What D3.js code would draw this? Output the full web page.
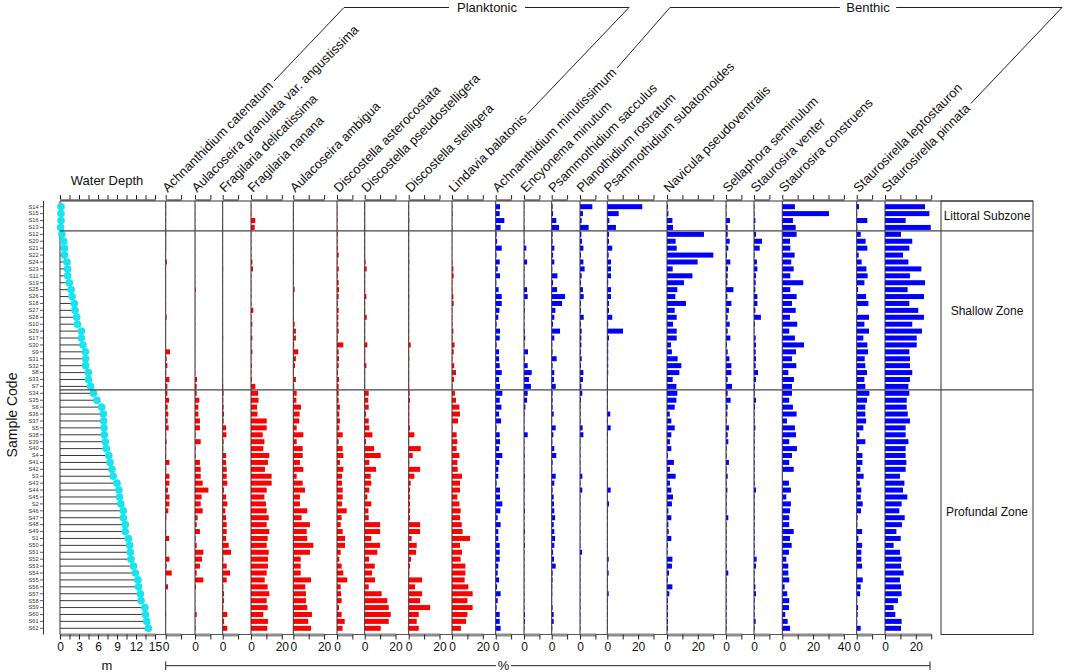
<!DOCTYPE html>
<html><head><meta charset="utf-8">
<script src="https://cdn.jsdelivr.net/npm/d3@7"></script>
<style>
body{margin:0;background:#fff}
svg{display:block}
text{font-family:"Liberation Sans",Arial,sans-serif;fill:#111}
</style>
</head><body>
<svg id="chart" width="1065" height="672"></svg>
<script>
// ---------------- DATA ----------------
const sampleCodes = ["S14","S15","S16","S13","S12","S20","S21","S22","S24","S23","S11","S19","S25","S26","S18","S27","S28","S10","S29","S17","S30","S9","S31","S32","S8","S33","S7","S34","S35","S6","S36","S37","S5","S38","S39","S40","S4","S41","S42","S3","S43","S44","S45","S2","S46","S47","S48","S49","S1","S50","S51","S52","S53","S54","S55","S56","S57","S58","S59","S60","S61","S62"];

const waterDepth = [0.16,0.16,0.16,0.1,0.3,0.58,0.7,0.7,1.1,1.2,1.2,1.47,1.74,1.9,2.26,2.37,2.63,2.74,3.37,3.37,3.63,4.0,4.05,4.05,4.47,4.5,4.84,5.3,5.84,6.58,6.84,6.9,6.95,7.0,7.16,7.3,7.7,7.9,8.2,8.4,9.0,9.3,9.4,9.6,10.0,10.0,10.3,10.3,10.8,11.0,11.1,11.2,11.6,11.9,12.3,12.4,12.7,12.8,13.4,13.5,13.7,13.95];

const speciesNames = ["Achnanthidium catenatum","Aulacoseira granulata var. angustissima","Fragilaria delicatissima","Fragilaria nanana","Aulacoseira ambigua","Discostella asterocostata","Discostella pseudostelligera","Discostella stelligera","Lindavia balatonis","Achnanthidium minutissimum","Encyonema minutum","Psammothidium sacculus","Planothidium rostratum","Psammothidium subatomoides","Navicula pseudoventralis","Sellaphora seminulum","Staurosira venter","Staurosira construens","Staurosirella leptostauron","Staurosirella pinnata"];
const speciesGroup = ["Planktonic","Planktonic","Planktonic","Planktonic","Planktonic","Planktonic","Planktonic","Planktonic","Planktonic","Benthic","Benthic","Benthic","Benthic","Benthic","Benthic","Benthic","Benthic","Benthic","Benthic","Benthic"];
const axisMax = [10,10,10,20,20,10,20,20,20,10,10,10,10,30,30,10,10,40,10,30];

const achCat = [0.3,0.3,0.3,0.3,0.3,0.3,0.3,0.2,0.8,0.2,0.2,0.2,0.2,0.2,0.2,0.2,0.6,0.2,0.2,0.2,0.2,2.8,0.6,1.1,0.3,2.4,1.1,1.1,2.2,1.3,1.7,1.3,1.9,0.3,0.6,0.3,0.3,2.4,0.3,2.4,2.4,1.5,2.4,2.4,1.7,0.4,0.2,0.3,2.2,0.3,0.3,2.4,0.6,3.9,0.2,1.5,0.2,0.2,0.2,0.3,0.2,0.2];
const aulGra = [0.2,0.2,0.2,0.2,0.2,0.2,0.2,0.2,0.2,0.2,0.2,0.2,0.5,0.2,0.2,0.2,0.2,0.2,0.2,0.2,0.2,0.2,0.2,0.2,0.2,1.3,1.1,1.1,2.8,2.2,2.2,3.2,3.2,0.4,3.7,0.4,0.4,3.2,3.7,3.7,5.0,8.7,4.3,3.7,5.0,1.7,1.1,3.2,0.4,1.1,5.4,4.5,3.2,1.1,5.4,0.6,0.2,0.2,0.3,1.1,0.2,0.4];
const fraDel = [0.2,0.2,0.2,0.2,0.2,0.2,0.2,0.2,0.2,0.3,0.2,0.2,0.2,0.2,0.2,0.2,0.2,0.2,0.2,0.3,0.2,0.2,0.2,0.2,0.2,0.2,0.3,0.6,0.4,0.6,0.9,0.6,2.2,2.4,0.6,0.4,2.2,2.2,2.6,2.6,3.0,0.9,2.2,3.0,1.7,2.2,2.6,2.6,2.2,3.9,5.4,0.4,2.6,4.8,2.6,0.4,0.9,0.9,0.4,3.0,0.9,3.0];
const fraNan = [0.3,0.3,2.8,2.4,0.3,0.3,0.3,0.3,0.9,1.3,0.3,0.3,0.3,0.3,0.3,1.5,0.3,0.9,0.3,0.9,0.3,0.9,0.3,0.6,0.3,0.6,2.8,4.6,4.9,3.9,4.2,10.2,10.2,7.6,8.7,8.0,11.9,11.0,9.1,13.4,13.4,10.2,8.7,9.7,10.2,11.5,10.2,11.9,10.8,10.2,11.5,11.0,11.0,10.2,8.9,10.8,11.9,10.2,10.8,8.0,11.0,10.6];
const aulAmb = [0.3,0.3,0.4,0.3,0.2,0.2,0.3,0.3,0.4,0.2,0.2,0.3,0.9,0.4,0.3,0.3,0.3,0.9,1.7,1.7,0.6,3.2,1.7,1.1,0.4,1.7,0.6,2.2,2.0,5.0,4.1,3.9,2.2,6.5,2.2,6.1,6.1,4.3,6.5,2.2,6.1,7.6,4.3,4.3,9.1,5.4,10.8,8.7,9.1,13.0,10.8,4.8,4.8,4.8,11.5,7.8,8.2,8.2,9.1,12.1,9.7,11.5];
const disAst = [0.3,0.3,0.3,0.3,0.5,0.4,0.5,1.1,0.4,1.1,0.5,1.1,1.3,1.1,0.5,1.1,0.9,0.9,1.1,0.5,4.1,1.1,1.3,1.1,0.6,1.3,1.1,1.1,1.1,1.9,1.5,1.9,1.5,3.7,1.1,3.7,4.1,1.9,4.1,3.2,3.2,3.7,3.7,3.2,6.3,3.0,2.4,3.7,5.2,5.2,2.4,1.5,3.0,4.1,6.7,2.4,2.6,3.0,1.3,3.0,5.0,3.6];
const disPse = [0.3,0.3,0.3,0.3,0.3,0.3,0.3,0.3,0.6,1.3,0.3,0.3,0.3,1.1,0.3,0.3,1.3,0.3,0.3,0.3,1.7,0.3,0.3,1.1,0.3,0.3,0.3,2.6,2.3,2.6,0.9,2.6,3.0,5.0,0.9,6.1,10.4,3.0,7.4,3.9,4.3,3.0,1.7,4.3,2.4,2.6,10.0,10.0,4.3,10.0,8.2,2.8,6.5,4.8,6.7,2.6,11.0,14.7,15.6,16.9,15.6,10.4];
const disSte = [0.3,0.3,0.4,0.3,0.3,0.3,0.3,0.3,0.4,0.3,0.3,0.3,0.3,0.4,0.3,0.3,0.3,0.3,0.3,0.3,1.3,0.3,0.4,0.3,0.3,0.3,0.3,0.6,0.9,0.4,0.4,0.4,0.9,3.7,0.3,7.8,2.6,0.4,7.4,3.7,1.3,0.9,0.9,0.9,0.9,0.9,7.4,7.4,1.9,5.2,4.8,1.5,0.9,0.4,8.7,4.1,8.7,7.4,13.9,6.5,5.2,6.5];
const linBal = [0.3,0.4,0.2,0.3,0.2,0.2,0.2,0.2,0.3,0.9,1.1,0.3,0.3,0.9,1.1,0.3,0.3,0.3,0.9,0.3,1.7,1.1,0.3,1.5,2.6,1.3,0.3,1.9,2.6,4.8,5.2,3.9,0.3,3.0,3.5,3.0,4.8,3.5,3.7,6.5,5.2,5.2,3.5,4.8,5.6,5.2,6.3,6.9,11.7,5.2,6.5,5.6,8.7,8.7,8.2,10.6,13.4,10.0,13.4,10.0,9.1,5.8];
const achMin = [2.8,2.6,5.6,3.2,0.6,0.9,3.9,0.5,2.6,1.3,2.8,0.4,1.9,3.9,3.9,2.4,1.7,0.6,2.8,2.6,0.6,2.2,2.2,2.6,3.9,2.2,2.8,4.3,2.6,3.7,2.2,3.5,0.6,2.6,2.8,2.2,4.3,2.4,1.7,1.7,0.6,2.8,2.8,4.3,3.0,1.3,3.2,1.7,1.7,2.6,2.6,2.6,1.7,1.3,2.2,0.9,3.2,1.3,0.6,2.6,2.6,3.2];
const encMin = [0.2,0.2,0.2,0.3,0.2,0.3,1.5,0.3,2.0,0.3,0.3,0.2,2.0,2.4,0.3,0.5,0.3,0.3,0.5,0.8,0.3,2.6,0.5,2.4,5.0,3.2,4.5,2.4,2.0,0.9,0.4,0.3,0.3,2.4,0.3,0.3,0.4,0.3,0.3,0.6,0.3,0.4,0.3,0.3,0.6,0.3,0.3,0.6,0.3,0.6,0.3,0.3,0.3,0.3,0.3,0.3,0.3,0.3,0.3,0.6,0.6,0.3];
const psaSac = [0.6,0.9,3.0,4.8,0.6,0.6,1.7,0.9,1.7,0.4,3.7,0.9,3.5,8.7,6.7,2.4,1.7,0.9,5.4,1.7,0.4,0.6,3.2,0.6,1.7,1.5,2.6,0.6,0.6,0.6,1.3,0.3,2.6,1.1,0.4,1.7,3.0,0.6,0.4,2.6,1.7,0.6,1.3,1.5,1.7,2.2,1.3,1.7,2.2,1.7,0.9,1.5,2.6,0.6,0.6,0.4,0.4,0.3,0.6,1.3,1.3,0.4];
const plaRos = [8.0,1.9,1.1,5.6,0.9,1.3,2.2,0.6,2.2,3.0,1.1,0.6,1.9,2.4,0.6,0.6,2.4,0.6,1.1,0.9,0.9,0.6,1.1,0.6,2.2,1.9,0.9,1.5,0.6,0.4,0.4,0.4,1.7,2.2,0.3,0.3,0.3,0.3,0.3,1.5,0.3,1.5,0.3,0.3,0.3,0.3,0.3,0.3,0.3,0.3,1.3,0.3,0.3,0.3,0.3,0.3,0.3,0.3,0.3,0.3,0.3,0.3];
const psaSub = [22.7,7.4,1.3,5.6,1.1,1.1,3.2,0.9,2.4,2.4,2.4,0.6,2.4,2.4,1.1,1.1,3.2,0.6,10.2,1.1,0.6,0.6,0.6,0.6,0.6,0.4,0.4,0.4,0.4,0.4,1.9,0.4,2.2,0.4,0.3,0.3,0.3,0.3,0.3,0.3,0.3,2.2,0.3,1.1,0.3,0.3,0.3,0.3,0.3,0.3,0.3,0.9,0.3,0.9,0.3,0.3,0.9,0.3,0.3,0.3,0.3,0.3];
const navPse = [0.6,0.9,3.5,3.9,24.0,5.6,6.3,30.1,19.9,3.7,16.5,11.0,6.7,5.4,12.3,5.0,6.3,3.9,6.3,6.3,2.6,3.2,6.9,9.3,8.0,3.7,6.1,6.7,6.1,5.0,1.8,2.8,5.0,2.8,1.9,2.8,0.6,4.5,1.9,5.6,1.9,2.8,3.9,3.2,0.9,2.8,0.9,1.1,2.8,0.6,0.4,3.5,3.2,1.3,0.6,3.5,1.5,0.6,0.6,0.6,0.6,0.6];
const selSem = [0.3,0.3,2.6,1.1,1.1,2.4,1.5,0.6,2.8,1.3,1.1,0.9,4.8,0.9,3.5,1.9,1.1,2.4,1.1,2.8,0.6,1.1,2.2,3.5,3.5,1.1,3.9,1.1,3.0,1.1,0.9,0.4,1.9,1.1,1.5,0.4,0.4,1.9,0.4,1.1,0.4,0.9,0.4,0.4,0.4,1.5,0.4,0.4,0.4,0.4,0.4,0.4,0.4,1.5,0.4,0.4,0.4,0.4,0.4,0.4,0.4,0.4];
const stsVen = [0.3,0.3,0.9,0.4,1.3,5.2,3.7,0.4,1.9,2.2,1.3,1.1,0.9,2.2,2.2,0.9,4.5,0.6,0.3,1.1,1.3,1.1,1.3,1.1,2.6,1.3,0.6,0.4,1.3,0.6,0.4,0.4,0.9,0.4,0.4,0.4,0.4,0.4,0.4,0.4,0.4,1.3,0.4,0.4,0.4,0.4,0.4,0.4,0.4,0.4,0.4,1.7,1.3,0.4,0.4,0.9,1.3,0.4,0.4,0.4,1.1,0.4];
const stsCon = [8.2,30.3,6.9,8.7,9.3,5.0,5.2,8.0,5.8,7.4,5.2,13.6,5.2,9.3,6.3,8.7,5.0,9.7,4.5,8.2,14.1,8.9,6.3,9.1,3.9,7.6,6.3,6.3,4.5,6.9,9.3,3.0,8.2,8.9,4.5,9.5,6.3,4.5,7.4,0.3,4.3,5.6,2.6,5.6,5.0,4.5,4.5,7.4,5.0,6.1,4.3,2.6,3.9,3.9,4.5,1.5,3.2,4.5,4.3,1.9,3.5,5.0];
const strLep = [1.5,0.3,6.9,0.4,2.6,5.8,6.9,1.3,3.2,6.3,7.1,5.0,0.9,6.1,7.6,0.6,8.0,5.0,8.0,4.3,6.9,7.4,5.2,5.6,6.7,5.0,5.6,8.2,6.7,5.6,5.6,6.1,4.3,1.7,5.6,1.3,3.7,3.7,2.4,4.5,2.0,3.0,2.6,3.9,2.8,0.6,0.4,3.5,1.1,3.5,3.0,3.0,3.5,0.2,3.9,2.6,2.2,0.3,0.9,0.6,0.3,2.6];
const strPin = [26.0,28.8,13.4,29.7,10.4,17.7,15.8,11.7,15.2,23.6,16.2,26.0,14.7,25.3,15.8,21.6,25.3,17.7,24.0,20.6,20.6,15.8,16.2,16.2,17.7,16.2,15.2,15.8,14.1,14.1,14.8,16.2,13.4,13.4,15.2,13.4,13.4,13.9,13.4,9.7,12.6,11.7,14.5,10.8,9.3,12.8,11.0,7.4,10.2,5.6,9.7,10.8,10.4,12.1,9.7,10.4,10.8,8.4,5.6,6.7,10.8,10.4];

const speciesValues = [achCat,aulGra,fraDel,fraNan,aulAmb,disAst,disPse,disSte,linBal,achMin,encMin,psaSac,plaRos,psaSub,navPse,selSem,stsVen,stsCon,strLep,strPin];

const zoneNames = ["Littoral Subzone","Shallow Zone","Profundal Zone"];
const zoneFirstSample = ["S14","S12","S34"];   // first sample of each zone
const depthTicks = [0,1.5,3,4.5,6,7.5,9,10.5,12,13.5,15];
const depthLabels = [0,3,6,9,12,15];

// ---------------- LAYOUT ----------------
const topY = 201, botY = 634.5;
const panelX = [165.7,195,222.7,251,293.3,337,364.7,408.7,452,495.7,524,551.7,580,607.3,667,726,754,782.3,856.7,885];
const pxPerPct = 1.54;
const zoneBox = {x0: 941, x1: 1033};
const colors = {Planktonic: "#ff0000", Benthic: "#0000ff"};
const barH = 5;

const svg = d3.select("#chart");

const y = d3.scalePoint().domain(sampleCodes).range([206.7, 628.3]);
const step = y.step();
const xDepth = d3.scaleLinear().domain([0, 15]).range([60, 155]);

// frame lines
svg.append("line").attr("x1",60).attr("x2",zoneBox.x1).attr("y1",topY).attr("y2",topY).attr("stroke","#333").attr("stroke-width",1);
svg.append("line").attr("x1",60).attr("x2",930).attr("y1",botY).attr("y2",botY).attr("stroke","#555").attr("stroke-width",1);
svg.append("rect").attr("x",zoneBox.x0).attr("y",topY).attr("width",zoneBox.x1-zoneBox.x0).attr("height",botY-topY)
  .attr("fill","none").attr("stroke","#333").attr("stroke-width",1);

// left sample axis
const yAxisG = svg.append("g").attr("transform","translate(43.5,0)");
yAxisG.append("line").attr("x1",0).attr("x2",0).attr("y1",topY).attr("y2",botY).attr("stroke","#333");
yAxisG.selectAll("line.tk").data(sampleCodes).join("line").attr("class","tk")
  .attr("x1",-3.5).attr("x2",0).attr("y1",d=>y(d)).attr("y2",d=>y(d)).attr("stroke","#333").attr("stroke-width",0.8);
yAxisG.selectAll("text").data(sampleCodes).join("text")
  .attr("x",-5).attr("y",d=>y(d)).attr("dy","0.33em").attr("text-anchor","end")
  .style("font-size","5.6px").style("fill","#333").text(d=>d);

svg.append("text").attr("transform","translate(17,415) rotate(-90)").attr("text-anchor","middle")
  .style("font-size","14px").text("Sample Code");

// water depth panel
svg.append("line").attr("x1",60).attr("x2",60).attr("y1",topY).attr("y2",botY).attr("stroke","#333");
svg.append("g").selectAll("line").data(sampleCodes).join("line")
  .attr("x1",60).attr("x2",(d,i)=>xDepth(waterDepth[i])).attr("y1",d=>y(d)).attr("y2",d=>y(d))
  .attr("stroke","#222").attr("stroke-width",0.9);
svg.append("g").selectAll("circle").data(sampleCodes).join("circle")
  .attr("cx",(d,i)=>xDepth(waterDepth[i])).attr("cy",d=>y(d)).attr("r",3.8).attr("fill","#19e3ee");

svg.append("g").attr("transform",`translate(0,${topY-1.5})`)
  .call(d3.axisTop(xDepth).tickValues(depthTicks).tickFormat("").tickSize(4.5).tickSizeOuter(0));
const dBot = svg.append("g").attr("transform",`translate(0,${botY})`)
  .call(d3.axisBottom(xDepth).tickValues(depthTicks).tickFormat(d=>depthLabels.includes(d)?d:"").tickSize(5).tickSizeOuter(0).tickPadding(3));
svg.append("text").attr("x",107).attr("y",185).attr("text-anchor","middle").style("font-size","13px").text("Water Depth");
svg.append("text").attr("x",107).attr("y",670).attr("text-anchor","middle").style("font-size","13px").text("m");

// species panels
const labelEnds = [];
speciesNames.forEach((name,k)=>{
  const x0 = panelX[k];
  const xs = d3.scaleLinear().domain([0, axisMax[k]]).range([x0, x0 + axisMax[k]*pxPerPct]);
  const g = svg.append("g");
  const vals = speciesValues[k];
  g.selectAll("rect").data(sampleCodes).join("rect")
    .attr("x",x0).attr("y",d=>y(d)-barH/2).attr("height",barH)
    .attr("width",(d,i)=>Math.max(0, xs(vals[i])-x0))
    .attr("fill",colors[speciesGroup[k]]);
  g.append("line").attr("x1",x0).attr("x2",x0).attr("y1",topY).attr("y2",botY).attr("stroke","#333").attr("stroke-width",1);
  const ticks = d3.range(0, axisMax[k]+0.001, 10);
  svg.append("g").attr("transform",`translate(0,${topY-1.5})`)
    .call(d3.axisTop(xs).tickValues(ticks).tickFormat("").tickSize(4.5).tickSizeOuter(0));
  svg.append("g").attr("class","bax").attr("transform",`translate(0,${botY})`)
    .call(d3.axisBottom(xs).tickValues(ticks).tickFormat(d=>d%20===0?d:"").tickSize(5).tickSizeOuter(0).tickPadding(3));
  const t = svg.append("text").attr("transform",`translate(${x0+2},193) rotate(-45)`)
    .style("font-size","13px").text(name);
  const L = t.node().getComputedTextLength();
  const c = Math.SQRT1_2;
  labelEnds.push([x0+2 + (L+4)*c - 4*c, 193 - (L+4)*c - 4*c]);
});

// axis styling
svg.selectAll(".domain").attr("stroke","#222").attr("stroke-width",1);
svg.selectAll(".tick line").attr("stroke","#222");
svg.selectAll(".tick text").style("font-size","12px").style("font-family","'Liberation Sans',Arial,sans-serif").attr("fill","#111");
svg.selectAll(".bax .domain").attr("stroke","#8c8c8c").attr("stroke-width",3);
dBot.select(".domain").attr("stroke","#8c8c8c").attr("stroke-width",3);

// zone lines and labels
const zoneBreaks = zoneFirstSample.slice(1).map(s=>y(s)-step/2);
zoneBreaks.forEach(yy=>{
  svg.append("line").attr("x1",60).attr("x2",zoneBox.x1).attr("y1",yy).attr("y2",yy).attr("stroke","#444").attr("stroke-width",1.3);
});
const zoneEdges = [topY, ...zoneBreaks, botY];
zoneNames.forEach((z,i)=>{
  svg.append("text").attr("x",(zoneBox.x0+zoneBox.x1)/2).attr("y",(zoneEdges[i]+zoneEdges[i+1])/2).attr("dy","0.35em")
    .attr("text-anchor","middle").style("font-size","12px").text(z);
});

// bottom % line
const pl = svg.append("g").attr("stroke","#222").attr("stroke-width",1);
pl.append("line").attr("x1",panelX[0]).attr("x2",496).attr("y1",665.7).attr("y2",665.7);
pl.append("line").attr("x1",511).attr("x2",930).attr("y1",665.7).attr("y2",665.7);
pl.append("line").attr("x1",panelX[0]).attr("x2",panelX[0]).attr("y1",661.5).attr("y2",670);
pl.append("line").attr("x1",930).attr("x2",930).attr("y1",661.5).attr("y2",670);
svg.append("text").attr("x",503.5).attr("y",670).attr("text-anchor","middle").style("font-size","13px").text("%");

// group headers
function groupHeader(name, firstIdx, lastIdx, cornerL, cornerR, textX){
  const a = labelEnds[firstIdx], b = labelEnds[lastIdx];
  const tw = name.length*6.6;
  const gl = svg.append("g").attr("stroke","#222").attr("stroke-width",1).attr("fill","none");
  gl.append("polyline").attr("points",[a,[cornerL,7.5],[textX - tw/2 - 5,7.5]].map(p=>p.join(",")).join(" "));
  gl.append("polyline").attr("points",[[textX + tw/2 + 5,7.5],[cornerR,7.5],b].map(p=>p.join(",")).join(" "));
  svg.append("text").attr("x",textX).attr("y",12).attr("text-anchor","middle").style("font-size","13px").text(name);
}
groupHeader("Planktonic", 0, 8, 344, 629, 487);
groupHeader("Benthic", 9, 19, 670, 1062, 868);
</script>
</body></html>
